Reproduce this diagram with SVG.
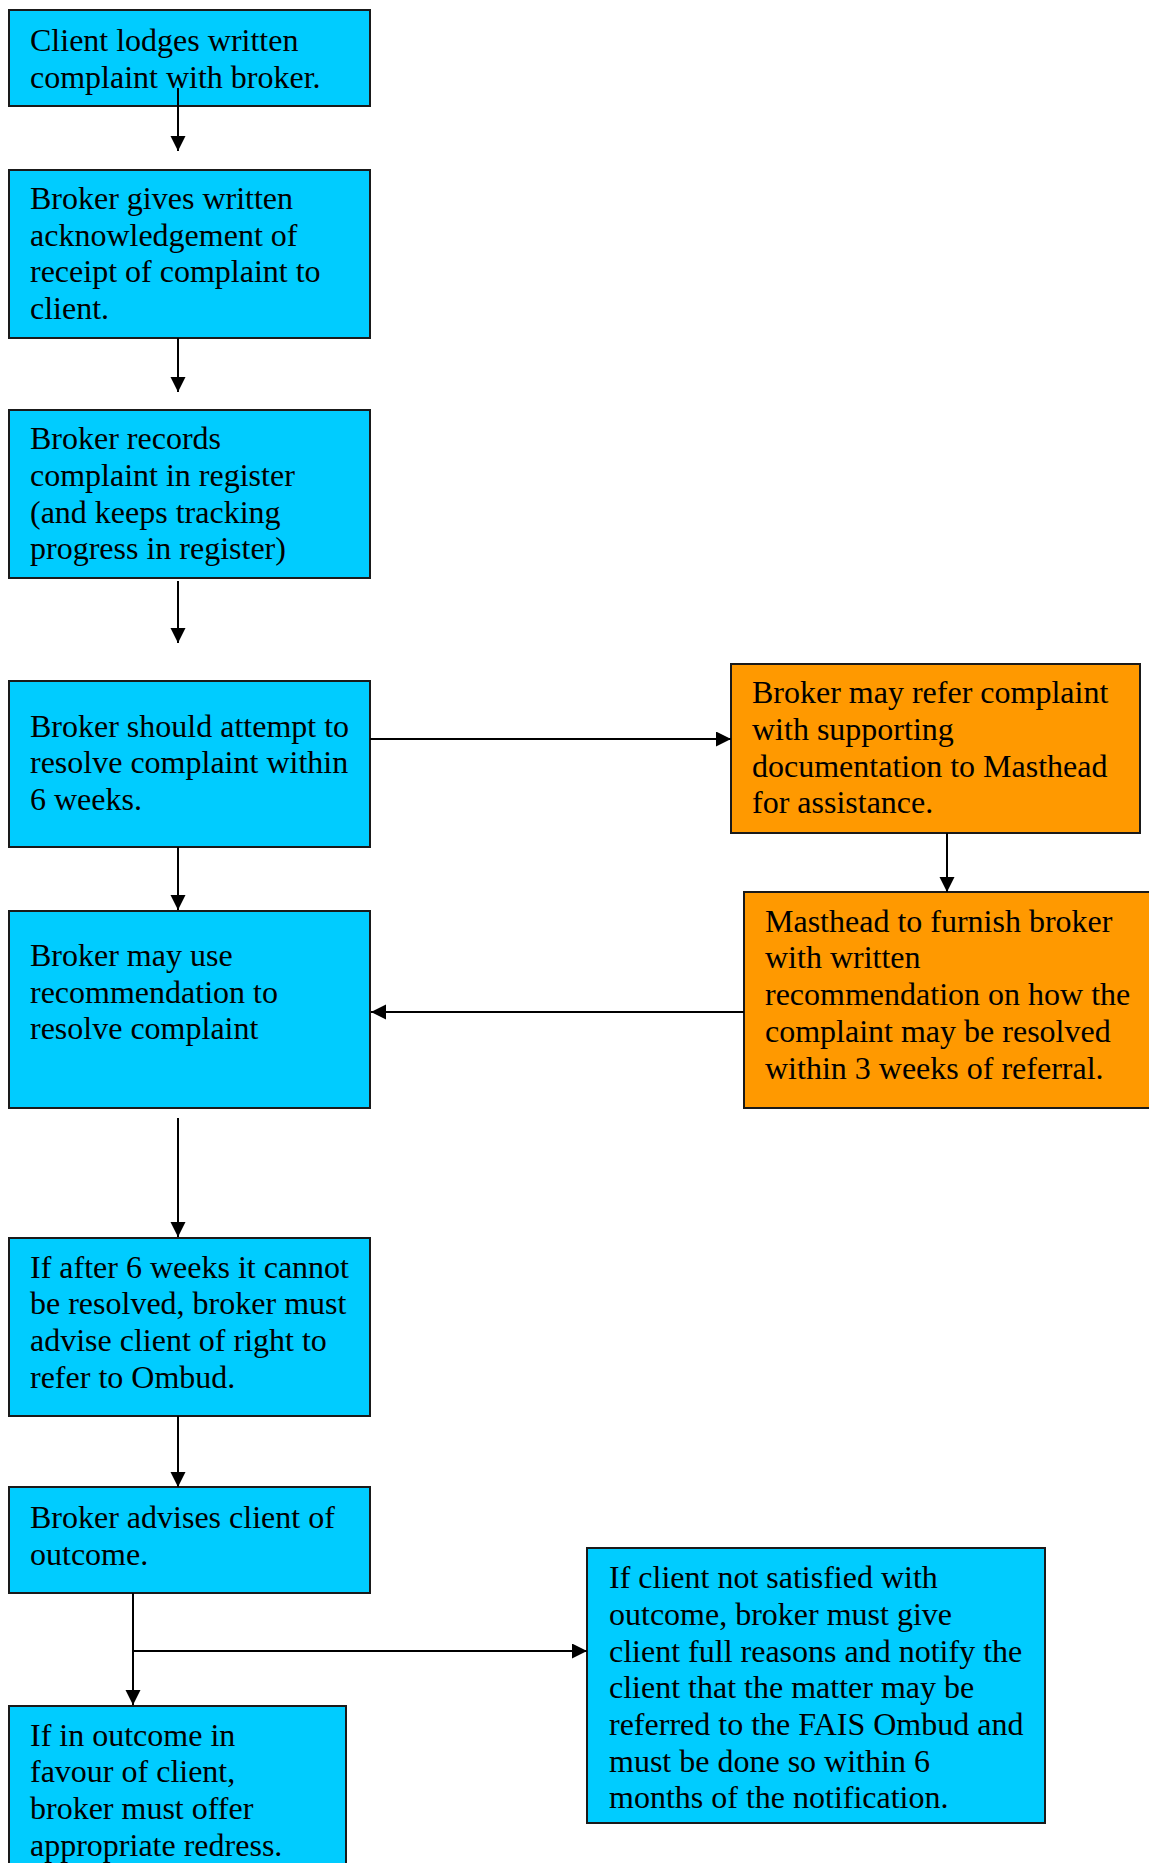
<svg xmlns="http://www.w3.org/2000/svg" width="1149" height="1863" viewBox="0 0 1149 1863">
<style>
.b{fill:#00CCFF;stroke:#1a1a1a;stroke-width:2}
.o{fill:#FF9900;stroke:#1a1a1a;stroke-width:2}
text{font-family:"Liberation Serif","Times New Roman",serif;font-size:32px;fill:#000}
.c{stroke:#000;stroke-width:2;fill:none;marker-end:url(#ah)}
.l{stroke:#000;stroke-width:2;fill:none}
</style>
<defs>
<marker id="ah" markerUnits="userSpaceOnUse" markerWidth="16" markerHeight="16" refX="15" refY="7.5" orient="auto">
<path d="M0,0 L15,7.5 L0,15 z" fill="#000"/>
</marker>
</defs>
<rect width="1149" height="1863" fill="#fff"/>
<g id="n1"><rect class="b" x="9" y="10" width="361" height="96"/>
<text x="30" y="51">Client lodges written</text><text x="30" y="88">complaint with broker.</text></g>
<g id="n2"><rect class="b" x="9" y="170" width="361" height="168"/>
<text x="30" y="209">Broker gives written</text><text x="30" y="246">acknowledgement of</text><text x="30" y="282">receipt of complaint to</text><text x="30" y="319">client.</text></g>
<g id="n3"><rect class="b" x="9" y="410" width="361" height="168"/>
<text x="30" y="449">Broker records</text><text x="30" y="486">complaint in register</text><text x="30" y="523">(and keeps tracking</text><text x="30" y="559">progress in register)</text></g>
<g id="n4"><rect class="b" x="9" y="681" width="361" height="166"/>
<text x="30" y="737">Broker should attempt to</text><text x="30" y="773">resolve complaint within</text><text x="30" y="810">6 weeks.</text></g>
<g id="n5"><rect class="b" x="9" y="911" width="361" height="197"/>
<text x="30" y="966">Broker may use</text><text x="30" y="1003">recommendation to</text><text x="30" y="1039">resolve complaint</text></g>
<g id="n6"><rect class="b" x="9" y="1238" width="361" height="178"/>
<text x="30" y="1278">If after 6 weeks it cannot</text><text x="30" y="1314">be resolved, broker must</text><text x="30" y="1351">advise client of right to</text><text x="30" y="1388">refer to Ombud.</text></g>
<g id="n7"><rect class="b" x="9" y="1487" width="361" height="106"/>
<text x="30" y="1528">Broker advises client of</text><text x="30" y="1565">outcome.</text></g>
<g id="n8"><rect class="b" x="9" y="1706" width="337" height="200"/>
<text x="30" y="1746">If in outcome in</text><text x="30" y="1782">favour of client,</text><text x="30" y="1819">broker must offer</text><text x="30" y="1856">appropriate redress.</text></g>
<g id="o1"><rect class="o" x="731" y="664" width="409" height="169"/>
<text x="752" y="703">Broker may refer complaint</text><text x="752" y="740">with supporting</text><text x="752" y="777">documentation to Masthead</text><text x="752" y="813">for assistance.</text></g>
<g id="o2"><rect class="o" x="744" y="892" width="420" height="216"/>
<text x="765" y="932">Masthead to furnish broker</text><text x="765" y="968">with written</text><text x="765" y="1005">recommendation on how the</text><text x="765" y="1042">complaint may be resolved</text><text x="765" y="1079">within 3 weeks of referral.</text></g>
<g id="n9"><rect class="b" x="587" y="1548" width="458" height="275"/>
<text x="609" y="1588">If client not satisfied with</text><text x="609" y="1625">outcome, broker must give</text><text x="609" y="1662">client full reasons and notify the</text><text x="609" y="1698">client that the matter may be</text><text x="609" y="1735">referred to the FAIS Ombud and</text><text x="609" y="1772">must be done so within 6</text><text x="609" y="1808">months of the notification.</text></g>
<g id="connectors">
<line class="c" x1="178" y1="88" x2="178" y2="151"/>
<line class="c" x1="178" y1="338" x2="178" y2="392"/>
<line class="c" x1="178" y1="581" x2="178" y2="643"/>
<line class="c" x1="178" y1="847" x2="178" y2="910"/>
<line class="c" x1="178" y1="1118" x2="178" y2="1237"/>
<line class="c" x1="178" y1="1416" x2="178" y2="1487"/>
<line class="c" x1="370" y1="739" x2="731" y2="739"/>
<line class="c" x1="947" y1="833" x2="947" y2="892"/>
<line class="c" x1="744" y1="1012" x2="371" y2="1012"/>
<line class="c" x1="133" y1="1593" x2="133" y2="1705"/>
<line class="c" x1="133" y1="1651" x2="587" y2="1651"/>
</g>
</svg>
